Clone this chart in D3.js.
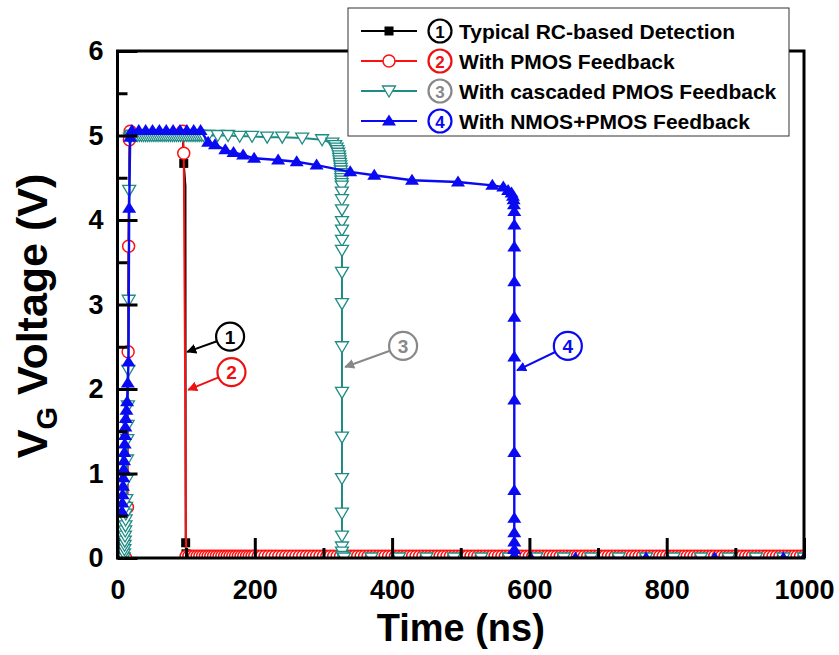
<!DOCTYPE html>
<html>
<head>
<meta charset="utf-8">
<script src="https://cdn.jsdelivr.net/npm/d3@7"></script>
<style>
  body { margin: 0; background: #fff; }
  text { font-family: "Liberation Sans", Arial, sans-serif; font-weight: bold; }
</style>
</head>
<body>
<svg id="chart" width="839" height="655"></svg>
<script>
// ---- data (time in ns, voltage in V) ----

// 1: typical RC-based detection (black, squares)
var rcTime = [12, 14, 15.5, 17, 19, 95, 96.5, 99, 99.3, 99.8, 101, 1000];
var rcVolt = [0, 0.6, 3.0, 4.7, 5.05, 5.05, 4.67, 4.4, 0.18, 0.05, 0, 0];
var rcMarkTime = [96.5, 99.3, 99.8];
var rcMarkVolt = [4.67, 0.18, 0.05];

// 2: with PMOS feedback (red, open circles)
var pmosTime = [12, 14.5, 15.5, 16.2, 17.3, 18.5, 95, 96.5, 100];
var pmosVolt = [0, 0.6, 2.44, 3.69, 4.95, 5.05, 5.05, 4.79, 0.02];
var pmosTailTime = [
  104,108,112,116,120,124,128,132,136,140,144,148,152,156,160,164,168,172,176,180,
  184,188,192,196,200,205,210,215,220,225,230,235,240,245,250,255,260,265,270,275,
  280,285,290,295,300,305,310,315,320,325,330,335,340,345,350,355,360,365,370,375,
  380,385,390,395,400,405,410,415,420,425,430,435,440,445,450,455,460,465,470,475,
  480,485,490,495,500,505,510,515,520,525,530,535,540,545,550,555,560,565,570,575,
  580,585,590,595,600,605,610,615,620,625,630,635,640,645,650,655,660,665,670,675,
  680,685,690,695,700,705,710,715,720,725,730,735,740,745,750,755,760,765,770,775,
  780,785,790,795,800,805,810,815,820,825,830,835,840,845,850,855,860,865,870,875,
  880,885,890,895,900,905,910,915,920,925,930,935,940,945,950,955,960,965,970,975,
  980,985,990,995,1000
];
var pmosTailVolt = 0.02;

// 3: with cascaded PMOS feedback (teal, open down triangles)
var cascTime = [
  9, 9.5, 10, 10.3, 10.6, 10.9, 11.2, 11.5, 11.8, 12.1, 12.4, 12.8, 13.3, 13.8, 14.3, 14.8, 15.2, 15.8, 16.3, 17, 18,
  20, 23, 26, 29, 32, 35, 38, 41, 44, 47, 50, 53, 56, 59, 62, 65, 68, 71, 74, 77, 80, 83, 86, 89, 92, 95, 98,
  101, 104, 107, 110, 113, 116, 119, 122, 125,
  132, 146, 161, 178, 196, 218, 240, 269, 298,
  313, 317, 319, 320.5, 321.5, 322.5, 323, 323.5, 324, 324.5, 325, 325.3, 325.6, 325.9, 326.1, 326.3, 326.5, 326.7,
  326.8, 326.9, 327, 327, 327, 327, 327, 327, 327, 327, 327, 327, 327, 327, 327, 327, 327, 327.5, 330,
  370, 410, 450, 490, 530, 570, 610, 650, 690, 730, 770, 810, 850, 890, 930, 970, 1000
];
var cascVolt = [
  0, 0.05, 0.1, 0.15, 0.2, 0.26, 0.32, 0.38, 0.45, 0.52, 0.6, 0.69, 0.92, 1.16, 1.4, 1.57, 1.8, 2.22, 3.05, 4.35, 4.97,
  5.0, 5.0, 5.0, 5.0, 5.0, 5.0, 5.0, 5.0, 5.0, 5.0, 5.0, 5.0, 5.0, 5.0, 5.0, 5.0, 5.0, 5.0, 5.0, 5.0, 5.0, 5.0, 5.0, 5.0, 5.0, 5.0, 5.0,
  5.0, 5.0, 5.0, 5.0, 5.0, 5.0, 5.0, 5.0, 5.0,
  5.0, 5.0, 5.0, 4.99, 4.99, 4.98, 4.98, 4.97, 4.95,
  4.91, 4.88, 4.85, 4.82, 4.79, 4.76, 4.73, 4.70, 4.67, 4.64, 4.61, 4.58, 4.55, 4.52, 4.49, 4.46, 4.43, 4.40,
  4.33, 4.24, 4.12, 3.98, 3.88, 3.76, 3.64, 3.38, 3.01, 2.5, 1.96, 1.43, 0.94, 0.53, 0.26, 0.13, 0.07, 0.02, 0,
  0, 0, 0, 0, 0, 0, 0, 0, 0, 0, 0, 0, 0, 0, 0, 0, 0
];

// 4: with NMOS+PMOS feedback (blue, filled up triangles)
var nmosTime = [
  6.5, 7, 7.5, 8, 8.5, 9, 9.5, 10, 10.5, 11, 11.5, 12, 13, 14, 15, 16, 17, 18.5,
  21, 31, 41, 51, 61, 71, 81, 91, 101, 111, 121,
  132, 142, 157, 169, 183, 199, 234, 261, 290, 339, 374, 429, 496, 546,
  562, 569, 574, 576, 577, 577.5, 578, 578, 578, 578, 578, 578, 578, 578, 578, 578, 578, 578, 578, 578,
  580, 602, 667, 770, 870, 970, 1000
];
var nmosVolt = [
  0.55, 0.65, 0.75, 0.85, 0.95, 1.05, 1.15, 1.25, 1.35, 1.45, 1.55, 1.65, 1.75, 1.85, 2.07, 2.32, 4.14, 4.98,
  5.06, 5.06, 5.06, 5.06, 5.06, 5.06, 5.06, 5.06, 5.06, 5.06, 5.06,
  4.92, 4.89, 4.83, 4.8, 4.77, 4.73, 4.71, 4.69, 4.65, 4.57, 4.53, 4.47, 4.45, 4.41,
  4.39, 4.35, 4.32, 4.28, 4.24, 4.18, 4.1, 3.94, 3.68, 3.27, 2.85, 2.38, 1.87, 1.25, 0.8, 0.47, 0.3, 0.19, 0.1, 0.03,
  0, 0, 0, 0, 0, 0, 0
];

// axis ticks
var xTicks = [0, 200, 400, 600, 800, 1000];
var xMinorTicks = [100, 300, 500, 700, 900];
var yTicks = [0, 1, 2, 3, 4, 5, 6];
var yMinorTicks = [0.5, 1.5, 2.5, 3.5, 4.5, 5.5];

// legend and call-outs
var legendLabels = ["Typical RC-based Detection", "With PMOS Feedback",
                    "With cascaded PMOS Feedback", "With NMOS+PMOS Feedback"];
var calloutNumber = ["1", "2", "3", "4"];
var calloutTime = [164, 166, 416, 656];
var calloutVolt = [2.62, 2.2, 2.51, 2.51];
var arrowTime = [101.5, 103, 331.6, 582];
var arrowVolt = [2.44, 1.99, 2.26, 2.22];

// ---- layout ----
var plotLeft = 117.5, plotRight = 804, plotTop = 51, plotBottom = 558;
var teal = "#1f8c84", blue = "#0a0af2", red = "#ff1010";
var numberColors = ["#000", "#ee1111", "#888", blue];

var svg = d3.select("#chart");

var x = d3.scaleLinear().domain([0, 1000]).range([plotLeft, plotRight]);
var y = d3.scaleLinear().domain([0, 6]).range([plotBottom, plotTop]);

var defs = svg.append("defs");
defs.append("clipPath").attr("id", "plot")
  .append("rect").attr("x", plotLeft).attr("y", plotTop)
  .attr("width", plotRight - plotLeft).attr("height", plotBottom - plotTop);

// marker shapes
function drawMarker(g, shape, color) {
  if (shape == "square") {
    g.append("rect").attr("x", -4.5).attr("y", -4.5).attr("width", 9).attr("height", 9)
      .attr("fill", color);
  } else if (shape == "circle") {
    g.append("circle").attr("r", 6).attr("fill", "#fff")
      .attr("stroke", color).attr("stroke-width", 1.5);
  } else if (shape == "down") {
    g.append("path").attr("d", "M-6.5,-5L6.5,-5L0,6Z").attr("fill", "#fff")
      .attr("stroke", color).attr("stroke-width", 1.3);
  } else {
    g.append("path").attr("d", "M-7,4.5L7,4.5L0,-6.5Z").attr("fill", color);
  }
}

var plot = svg.append("g").attr("clip-path", "url(#plot)");

function drawSeries(times, volts, color, shape, width, markT, markV) {
  var pts = times.map(function(t, i) { return [t, volts[i]]; });
  var line = d3.line()
    .x(function(d) { return x(d[0]); })
    .y(function(d) { return y(d[1]); });
  plot.append("path").datum(pts)
    .attr("d", line).attr("fill", "none")
    .attr("stroke", color).attr("stroke-width", width);

  var marks = markT ? markT.map(function(t, i) { return [t, markV[i]]; }) : pts;
  plot.append("g").selectAll("g")
    .data(marks)
    .enter().append("g")
    .attr("transform", function(d) { return "translate(" + x(d[0]) + "," + y(d[1]) + ")"; })
    .each(function() { drawMarker(d3.select(this), shape, color); });
}

// red series = its transition plus the flat tail
var pmosAllTime = pmosTime.concat(pmosTailTime);
var pmosAllVolt = pmosVolt.concat(pmosTailTime.map(function() { return pmosTailVolt; }));

drawSeries(rcTime, rcVolt, "#000", "square", 2, rcMarkTime, rcMarkVolt);
drawSeries(pmosAllTime, pmosAllVolt, red, "circle", 2);
drawSeries(cascTime, cascVolt, teal, "down", 2);
drawSeries(nmosTime, nmosVolt, blue, "up", 2.4);

// ---- axes (ticks point inward) ----
var xAxis = d3.axisBottom(x).tickValues(xTicks).tickSize(-20).tickPadding(22)
  .tickFormat(d3.format("d"));
var gx = svg.append("g").attr("transform", "translate(0," + plotBottom + ")").call(xAxis);
var gxm = svg.append("g").attr("transform", "translate(0," + plotBottom + ")")
  .call(d3.axisBottom(x).tickValues(xMinorTicks).tickSize(-10).tickFormat(""));

var yAxis = d3.axisLeft(y).tickValues(yTicks).tickSize(-20).tickPadding(14)
  .tickFormat(d3.format("d"));
var gy = svg.append("g").attr("transform", "translate(" + plotLeft + ",0)").call(yAxis);
var gym = svg.append("g").attr("transform", "translate(" + plotLeft + ",0)")
  .call(d3.axisLeft(y).tickValues(yMinorTicks).tickSize(-10).tickFormat(""));

[gx, gxm, gy, gym].forEach(function(g) {
  g.select(".domain").remove();
  g.selectAll(".tick line").attr("stroke", "#000").attr("stroke-width", 3);
  g.selectAll("text").attr("font-size", 27).attr("fill", "#000")
    .style("font-family", '"Liberation Sans", Arial, sans-serif').style("font-weight", "bold");
});

// frame
svg.append("rect").attr("x", plotLeft).attr("y", plotTop)
  .attr("width", plotRight - plotLeft).attr("height", plotBottom - plotTop)
  .attr("fill", "none").attr("stroke", "#000").attr("stroke-width", 3);

// axis titles
svg.append("text").attr("x", (plotLeft + plotRight) / 2).attr("y", 641)
  .attr("text-anchor", "middle").attr("font-size", 38).text("Time (ns)");

var yl = svg.append("text").attr("transform", "translate(47,316) rotate(-90)")
  .attr("text-anchor", "middle").attr("font-size", 43);
yl.append("tspan").text("V");
yl.append("tspan").attr("font-size", 29).attr("dy", 10).text("G");
yl.append("tspan").attr("dy", -10).text(" Voltage (V)");

// ---- legend ----
var legend = svg.append("g");
legend.append("rect").attr("x", 348).attr("y", 8).attr("width", 441).attr("height", 128)
  .attr("fill", "#fff").attr("stroke", "#333").attr("stroke-width", 1);

var legendSeries = [["#000", "square"], [red, "circle"], [teal, "down"], [blue, "up"]];
legendLabels.forEach(function(label, i) {
  var ly = 31 + i * 30;
  var row = legend.append("g").attr("transform", "translate(0," + ly + ")");
  row.append("line").attr("x1", 361).attr("x2", 417)
    .attr("stroke", legendSeries[i][0]).attr("stroke-width", 2);
  drawMarker(row.append("g").attr("transform", "translate(389,0)"), legendSeries[i][1], legendSeries[i][0]);
  row.append("circle").attr("cx", 440).attr("cy", 0).attr("r", 11.5)
    .attr("fill", "#fff").attr("stroke", numberColors[i]).attr("stroke-width", 2.2);
  row.append("text").attr("x", 440).attr("y", 6.5).attr("text-anchor", "middle")
    .attr("font-size", 17).attr("fill", numberColors[i]).text(calloutNumber[i]);
  row.append("text").attr("x", 459).attr("y", 7.5).attr("font-size", 21)
    .attr("fill", "#000").text(label);
});

// ---- call-outs with arrows ----
numberColors.forEach(function(c, i) {
  defs.append("marker").attr("id", "arrow" + i)
    .attr("viewBox", "0 0 10 10").attr("refX", 9).attr("refY", 5)
    .attr("markerWidth", 10).attr("markerHeight", 10).attr("markerUnits", "userSpaceOnUse")
    .attr("orient", "auto")
    .append("path").attr("d", "M0,0L10,5L0,10Z").attr("fill", c);
});

calloutNumber.forEach(function(n, i) {
  var cx = x(calloutTime[i]), cy = y(calloutVolt[i]);
  var tx = x(arrowTime[i]), ty = y(arrowVolt[i]);
  var dx = tx - cx, dy = ty - cy, len = Math.sqrt(dx * dx + dy * dy);
  var r = 14;
  var col = numberColors[i];
  svg.append("line")
    .attr("x1", cx + dx / len * r).attr("y1", cy + dy / len * r)
    .attr("x2", tx).attr("y2", ty)
    .attr("stroke", col).attr("stroke-width", 2)
    .attr("marker-end", "url(#arrow" + i + ")");
  svg.append("circle").attr("cx", cx).attr("cy", cy).attr("r", r)
    .attr("fill", "#fff").attr("stroke", col).attr("stroke-width", 2.2);
  svg.append("text").attr("x", cx).attr("y", cy + 7).attr("text-anchor", "middle")
    .attr("font-size", 19).attr("fill", col).text(n);
});
</script>
</body>
</html>
